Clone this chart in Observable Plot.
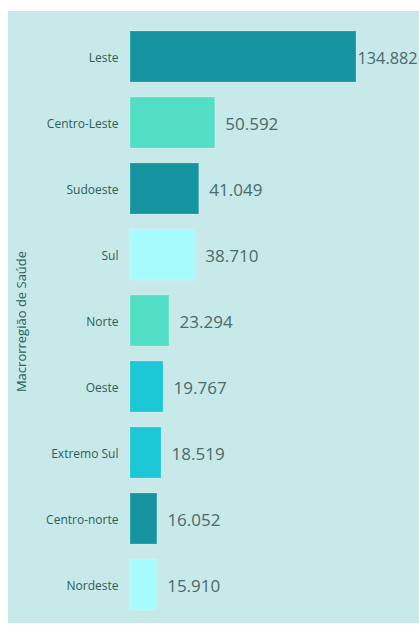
<!DOCTYPE html>
<html>
<head>
<meta charset="utf-8">
<script src="https://cdn.jsdelivr.net/npm/d3@7"></script>
<script src="https://cdn.jsdelivr.net/npm/@observablehq/plot@0.6"></script>
<style>
  html, body { margin: 0; padding: 0; background: #ffffff; }
  #panel { position: absolute; left: 8px; top: 11px; width: 411px; height: 612px; background: #c8e9ea; overflow: hidden; }
  #panel svg { display: block; background: transparent; }
</style>
</head>
<body>
<div id="panel"></div>
<script>
const categories = ["Leste", "Centro-Leste", "Sudoeste", "Sul", "Norte", "Oeste", "Extremo Sul", "Centro-norte", "Nordeste"];
const values = [134882, 50592, 41049, 38710, 23294, 19767, 18519, 16052, 15910];
const palette = ["#16949f", "#52dfc6", "#16949f", "#a6fcfc", "#52dfc6", "#1cc8d6", "#1cc8d6", "#16949f", "#a6fcfc"];
const axisTitle = "Macrorregião de Saúde";

const data = categories.map((c, i) => ({ category: c, value: values[i] }));
const maxValue = d3.max(values);
const br = d3.formatLocale({ decimal: ",", thousands: ".", grouping: [3], currency: ["R$", ""] });
const fmt = br.format(",d");
const font = "'Segoe UI', 'Open Sans', 'Noto Sans', sans-serif";

const chart = Plot.plot({
  width: 411,
  height: 612,
  marginLeft: 122,
  marginRight: 63,
  marginTop: 19,
  marginBottom: 11,
  style: { fontFamily: font, background: "transparent", overflow: "visible" },
  x: { domain: [0, maxValue], axis: null },
  y: { domain: categories, paddingInner: 0.22, paddingOuter: 0, label: null },
  color: { domain: categories, range: palette },
  marks: [
    Plot.barX(data, { x: "value", y: "category", fill: "category", stroke: "#ffffff", strokeOpacity: 0.18, strokeWidth: 1 }),
    Plot.text(data.filter(d => d.value !== maxValue), { x: "value", y: "category", text: d => fmt(d.value), textAnchor: "start", dx: 10, dy: 2, fontSize: 17, fill: "#4b6a6a" }),
    Plot.text(data.filter(d => d.value === maxValue), { x: "value", y: "category", text: d => fmt(d.value), textAnchor: "start", dx: 1, dy: 2, fontSize: 16.3, fill: "#4b6a6a" }),
    Plot.axisY({ tickSize: 0, tickPadding: 12, fontSize: 12, color: "#2a5f58", label: null, dy: 1 }),
    Plot.text([axisTitle], { frameAnchor: "left", textAnchor: "middle", dx: -109, rotate: -90, text: d => d, fontSize: 13, fill: "#2a5f58" })
  ]
});
document.getElementById("panel").appendChild(chart);
</script>
</body>
</html>
